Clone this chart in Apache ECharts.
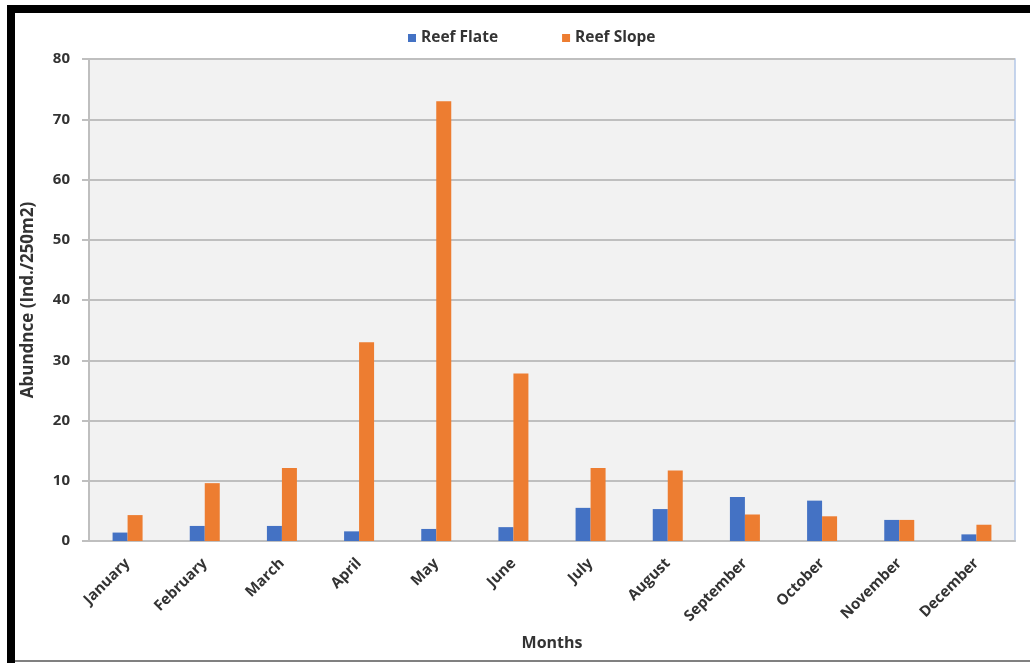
<!DOCTYPE html>
<html>
<head>
<meta charset="utf-8">
<script src="https://cdn.jsdelivr.net/npm/echarts@6/dist/echarts.min.js"></script>
<style>
  html, body { margin: 0; padding: 0; background: #ffffff; }
  #chart { width: 1030px; height: 663px; }
</style>
</head>
<body>
<div id="chart"></div>
<script>
// Monthly abundance (individuals per 250 m²) on the reef flat and reef slope
const months = ['January', 'February', 'March', 'April', 'May', 'June',
                'July', 'August', 'September', 'October', 'November', 'December'];
const reefFlate = [1.4, 2.5, 2.5, 1.6, 2.0, 2.3, 5.5, 5.3, 7.3, 6.7, 3.5, 1.1];
const reefSlope = [4.3, 9.6, 12.1, 33, 73, 27.8, 12.1, 11.7, 4.4, 4.1, 3.5, 2.7];
const yTicks = { min: 0, max: 80, step: 10 };

const FONT = '"Open Sans", Lato, sans-serif';
const TEXT = '#333333';

const chart = echarts.init(document.getElementById('chart'), null, { renderer: 'canvas' });

chart.setOption({
  backgroundColor: '#ffffff',
  animation: false,
  color: ['#4472c4', '#ed7d31'],
  legend: {
    top: 25,
    left: 403,
    itemWidth: 8,
    itemHeight: 8,
    itemGap: 64,
    icon: 'rect',
    textStyle: { fontFamily: FONT, fontWeight: 'bold', fontSize: 15.5, color: TEXT }
  },
  grid: {
    left: 89,
    right: 15,
    top: 59,
    bottom: 122,
    show: true,
    backgroundColor: '#f2f2f2',
    borderColor: '#b4c7e7',
    borderWidth: 1.5
  },
  xAxis: {
    type: 'category',
    data: months,
    name: 'Months',
    nameLocation: 'middle',
    nameGap: 94,
    nameTextStyle: { fontFamily: FONT, fontWeight: 'bold', fontSize: 16, color: TEXT },
    axisLine: { lineStyle: { color: '#bfbfbf', width: 2 } },
    axisTick: { show: false },
    axisLabel: {
      rotate: 45,
      margin: 20,
      interval: 0,
      fontFamily: FONT,
      fontWeight: 'bold',
      fontSize: 15,
      color: TEXT
    }
  },
  yAxis: {
    type: 'value',
    min: yTicks.min,
    max: yTicks.max,
    interval: yTicks.step,
    name: 'Abundnce (Ind./250m2)',
    nameLocation: 'middle',
    nameGap: 52,
    nameTextStyle: { fontFamily: FONT, fontWeight: 'bold', fontSize: 17, color: TEXT },
    axisLine: { show: true, lineStyle: { color: '#bfbfbf', width: 2 } },
    axisTick: { show: true, length: 7, lineStyle: { color: '#bfbfbf', width: 2 } },
    axisLabel: {
      margin: 19,
      fontFamily: FONT,
      fontWeight: 'bold',
      fontSize: 15,
      color: TEXT
    },
    splitLine: { lineStyle: { color: '#bfbfbf', width: 2 } }
  },
  series: [
    {
      name: 'Reef Flate',
      type: 'bar',
      data: reefFlate,
      barWidth: 15,
      barGap: '0%'
    },
    {
      name: 'Reef Slope',
      type: 'bar',
      data: reefSlope,
      barWidth: 15,
      barGap: '0%'
    }
  ],
  graphic: [
    // black frame along the top and left edges
    { type: 'rect', silent: true, shape: { x: 7, y: 5, width: 1023, height: 8 }, style: { fill: '#000000' } },
    { type: 'rect', silent: true, shape: { x: 7, y: 5, width: 8, height: 658 }, style: { fill: '#000000' } },
    // thin gray rule at the bottom
    { type: 'rect', silent: true, shape: { x: 15, y: 660, width: 1015, height: 2 }, style: { fill: '#808080' } }
  ]
});
</script>
</body>
</html>
